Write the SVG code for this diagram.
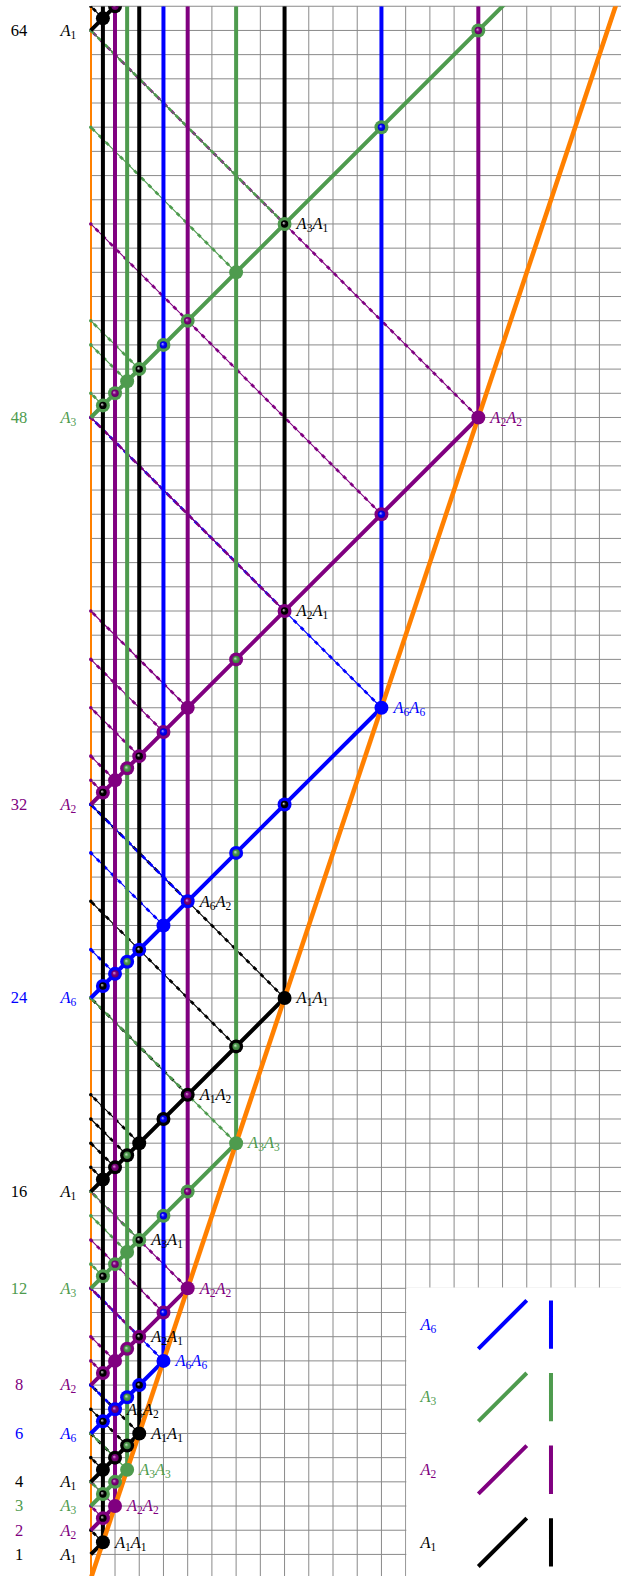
<svg xmlns="http://www.w3.org/2000/svg" width="621" height="1576" viewBox="0 0 621 1576">
<defs>
<style>
.grid{stroke:#8a8a8a;stroke-width:1;fill:none}
.th{stroke-width:4;fill:none}
.or{stroke:#ff8000;stroke-width:4.6;fill:none}
.dl{stroke-width:1.1;fill:none}
.dd{stroke-width:2.7;fill:none;stroke-dasharray:4 6}
.dot{stroke-width:3.6;stroke-linecap:round;fill:none}
.K{stroke:#000}.P{stroke:#800080}.G{stroke:#4e9b4e}.B{stroke:#0000ff}
.t{font-family:"Liberation Serif","Times New Roman",serif;font-size:16.5px}
.i{font-style:italic}
.s{font-size:11.5px}
.cK{fill:#000}.cP{fill:#800080}.cG{fill:#4e9b4e}.cB{fill:#0000ff}
</style>
<radialGradient id="bK" cx="0.5" cy="0.5" r="0.5" fx="0.35" fy="0.35"><stop offset="0" stop-color="#e0e0e0"/><stop offset="0.5" stop-color="#000"/></radialGradient>
<radialGradient id="bP" cx="0.5" cy="0.5" r="0.5" fx="0.35" fy="0.35"><stop offset="0" stop-color="#d9a6d9"/><stop offset="0.5" stop-color="#800080"/><stop offset="1" stop-color="#600060"/></radialGradient>
<radialGradient id="bG" cx="0.5" cy="0.5" r="0.5" fx="0.35" fy="0.35"><stop offset="0" stop-color="#cfe6cf"/><stop offset="0.5" stop-color="#4e9b4e"/><stop offset="1" stop-color="#3c7a3c"/></radialGradient>
<radialGradient id="bB" cx="0.5" cy="0.5" r="0.5" fx="0.35" fy="0.35"><stop offset="0" stop-color="#b3b3ff"/><stop offset="0.5" stop-color="#0000ff"/><stop offset="1" stop-color="#0000c0"/></radialGradient>
<clipPath id="clip"><rect x="88" y="6.25" width="540" height="1572"/></clipPath>
<circle id="oK" r="7" fill="#000"/>
<circle id="oP" r="7" fill="#800080"/>
<circle id="oG" r="7" fill="#4e9b4e"/>
<circle id="oB" r="7" fill="#0000ff"/>
<circle id="iK" r="3.7" fill="url(#bK)"/>
<circle id="iP" r="3.7" fill="url(#bP)"/>
<circle id="iG" r="3.7" fill="url(#bG)"/>
<circle id="iB" r="3.7" fill="url(#bB)"/>
</defs>
<rect width="621" height="1576" fill="#fff"/>
<g id="grid">
<path class="grid" d="M90.8 1554.41H621M90.8 1530.22H621M90.8 1506.03H621M90.8 1481.84H621M90.8 1457.65H621M90.8 1433.46H621M90.8 1409.27H621M90.8 1385.08H621M90.8 1360.89H621M90.8 1336.7H621M90.8 1312.51H621M90.8 1288.32H621M90.8 1264.13H621M90.8 1239.94H621M90.8 1215.75H621M90.8 1191.56H621M90.8 1167.37H621M90.8 1143.18H621M90.8 1118.99H621M90.8 1094.8H621M90.8 1070.61H621M90.8 1046.42H621M90.8 1022.23H621M90.8 998.04H621M90.8 973.85H621M90.8 949.66H621M90.8 925.47H621M90.8 901.28H621M90.8 877.09H621M90.8 852.9H621M90.8 828.71H621M90.8 804.52H621M90.8 780.33H621M90.8 756.14H621M90.8 731.95H621M90.8 707.76H621M90.8 683.57H621M90.8 659.38H621M90.8 635.19H621M90.8 611H621M90.8 586.81H621M90.8 562.62H621M90.8 538.43H621M90.8 514.24H621M90.8 490.05H621M90.8 465.86H621M90.8 441.67H621M90.8 417.48H621M90.8 393.29H621M90.8 369.1H621M90.8 344.91H621M90.8 320.72H621M90.8 296.53H621M90.8 272.34H621M90.8 248.15H621M90.8 223.96H621M90.8 199.77H621M90.8 175.58H621M90.8 151.39H621M90.8 127.2H621M90.8 103.01H621M90.8 78.82H621M90.8 54.63H621M90.8 30.44H621M90.8 6.25H621"/>
<path class="grid" d="M90.8 6.25V1576M115.02 6.25V1576M139.24 6.25V1576M163.46 6.25V1576M187.68 6.25V1576M211.9 6.25V1576M236.12 6.25V1576M260.34 6.25V1576M284.56 6.25V1576M308.78 6.25V1576M333 6.25V1576M357.22 6.25V1576M381.44 6.25V1576M405.66 6.25V1576M429.88 6.25V1576M454.1 6.25V1576M478.32 6.25V1576M502.54 6.25V1576M526.76 6.25V1576M550.98 6.25V1576M575.2 6.25V1576M599.42 6.25V1576"/>
</g>
<g id="legend">
<rect x="406.3" y="1287.5" width="215" height="289" fill="#fff"/>
<text class="t cB" x="420.5" y="1329.91"><tspan class="i">A</tspan><tspan class="s" dy="3">6</tspan></text>
<path class="th B" d="M478.32 1348.8L526.76 1300.42M550.98 1348.8V1300.42"/>
<text class="t cG" x="420.5" y="1402.48"><tspan class="i">A</tspan><tspan class="s" dy="3">3</tspan></text>
<path class="th G" d="M478.32 1421.37L526.76 1372.99M550.98 1421.37V1372.99"/>
<text class="t cP" x="420.5" y="1475.05"><tspan class="i">A</tspan><tspan class="s" dy="3">2</tspan></text>
<path class="th P" d="M478.32 1493.94L526.76 1445.56M550.98 1493.94V1445.56"/>
<text class="t cK" x="420.5" y="1547.62"><tspan class="i">A</tspan><tspan class="s" dy="3">1</tspan></text>
<path class="th K" d="M478.32 1566.51L526.76 1518.13M550.98 1566.51V1518.13"/>
</g>
<g id="axis-labels">
<text class="t cK" x="19" y="1559.71" text-anchor="middle">1</text>
<text class="t cP" x="19" y="1535.52" text-anchor="middle">2</text>
<text class="t cG" x="19" y="1511.33" text-anchor="middle">3</text>
<text class="t cK" x="19" y="1487.14" text-anchor="middle">4</text>
<text class="t cB" x="19" y="1438.76" text-anchor="middle">6</text>
<text class="t cP" x="19" y="1390.38" text-anchor="middle">8</text>
<text class="t cG" x="19" y="1293.62" text-anchor="middle">12</text>
<text class="t cK" x="19" y="1196.86" text-anchor="middle">16</text>
<text class="t cB" x="19" y="1003.34" text-anchor="middle">24</text>
<text class="t cP" x="19" y="809.82" text-anchor="middle">32</text>
<text class="t cG" x="19" y="422.78" text-anchor="middle">48</text>
<text class="t cK" x="19" y="35.74" text-anchor="middle">64</text>
<text class="t cK" x="60.5" y="1559.71"><tspan class="i">A</tspan><tspan class="s" dy="3">1</tspan></text>
<text class="t cP" x="60.5" y="1535.52"><tspan class="i">A</tspan><tspan class="s" dy="3">2</tspan></text>
<text class="t cG" x="60.5" y="1511.33"><tspan class="i">A</tspan><tspan class="s" dy="3">3</tspan></text>
<text class="t cK" x="60.5" y="1487.14"><tspan class="i">A</tspan><tspan class="s" dy="3">1</tspan></text>
<text class="t cB" x="60.5" y="1438.76"><tspan class="i">A</tspan><tspan class="s" dy="3">6</tspan></text>
<text class="t cP" x="60.5" y="1390.38"><tspan class="i">A</tspan><tspan class="s" dy="3">2</tspan></text>
<text class="t cG" x="60.5" y="1293.62"><tspan class="i">A</tspan><tspan class="s" dy="3">3</tspan></text>
<text class="t cK" x="60.5" y="1196.86"><tspan class="i">A</tspan><tspan class="s" dy="3">1</tspan></text>
<text class="t cB" x="60.5" y="1003.34"><tspan class="i">A</tspan><tspan class="s" dy="3">6</tspan></text>
<text class="t cP" x="60.5" y="809.82"><tspan class="i">A</tspan><tspan class="s" dy="3">2</tspan></text>
<text class="t cG" x="60.5" y="422.78"><tspan class="i">A</tspan><tspan class="s" dy="3">3</tspan></text>
<text class="t cK" x="60.5" y="35.74"><tspan class="i">A</tspan><tspan class="s" dy="3">1</tspan></text>
</g>
<g id="connectors" clip-path="url(#clip)">
<line x1="91" y1="6.25" x2="91" y2="1576" stroke="#ff8000" stroke-width="2"/>
<g id="dashed">
<path class="dl K" d="M102.91 1542.32L90.8 1530.22M102.91 1469.75L90.8 1457.65M115.02 1457.65L90.8 1433.46M127.13 1445.56L90.8 1409.27M139.24 1433.46L90.8 1385.08M102.91 1179.47L90.8 1167.37M115.02 1167.37L90.8 1143.18M127.13 1155.28L90.8 1118.99M139.24 1143.18L90.8 1094.8M187.68 1094.8L90.8 998.04M236.12 1046.42L90.8 901.28M284.56 998.04L90.8 804.52M102.91 18.35L90.8 6.25"/>
<path class="dd K" d="M102.91 1542.32L90.8 1530.22M102.91 1469.75L90.8 1457.65M115.02 1457.65L90.8 1433.46M127.13 1445.56L90.8 1409.27M139.24 1433.46L90.8 1385.08M102.91 1179.47L90.8 1167.37M115.02 1167.37L90.8 1143.18M127.13 1155.28L90.8 1118.99M139.24 1143.18L90.8 1094.8M187.68 1094.8L90.8 998.04M236.12 1046.42L90.8 901.28M284.56 998.04L90.8 804.52M102.91 18.35L90.8 6.25"/>
<path class="dot K" d="M90.8 1530.22h0M90.8 1457.65h0M90.8 1433.46h0M90.8 1409.27h0M90.8 1385.08h0M90.8 1167.37h0M90.8 1143.18h0M90.8 1118.99h0M90.8 1094.8h0M90.8 998.04h0M90.8 901.28h0M90.8 804.52h0M90.8 6.25h0"/>
<path class="dl B" d="M115.02 1409.27L90.8 1385.08M163.46 1360.89L90.8 1288.32M115.02 973.85L90.8 949.66M163.46 925.47L90.8 852.9M187.68 901.28L90.8 804.52M381.44 707.76L90.8 417.48"/>
<path class="dd B" d="M115.02 1409.27L90.8 1385.08M163.46 1360.89L90.8 1288.32M115.02 973.85L90.8 949.66M163.46 925.47L90.8 852.9M187.68 901.28L90.8 804.52M381.44 707.76L90.8 417.48"/>
<path class="dot B" d="M90.8 1385.08h0M90.8 1288.32h0M90.8 949.66h0M90.8 852.9h0M90.8 804.52h0M90.8 417.48h0"/>
<path class="dl P" d="M102.91 1518.13L90.8 1506.03M115.02 1506.03L90.8 1481.84M102.91 1372.99L90.8 1360.89M115.02 1360.89L90.8 1336.7M139.24 1336.7L90.8 1288.32M163.46 1312.51L90.8 1239.94M187.68 1288.32L90.8 1191.56M102.91 792.43L90.8 780.33M115.02 780.33L90.8 756.14M139.24 756.14L90.8 707.76M163.46 731.95L90.8 659.38M187.68 707.76L90.8 611M284.56 611L90.8 417.48M381.44 514.24L90.8 223.96M478.32 417.48L90.8 30.44"/>
<path class="dd P" d="M102.91 1518.13L90.8 1506.03M115.02 1506.03L90.8 1481.84M102.91 1372.99L90.8 1360.89M115.02 1360.89L90.8 1336.7M139.24 1336.7L90.8 1288.32M163.46 1312.51L90.8 1239.94M187.68 1288.32L90.8 1191.56M102.91 792.43L90.8 780.33M115.02 780.33L90.8 756.14M139.24 756.14L90.8 707.76M163.46 731.95L90.8 659.38M187.68 707.76L90.8 611M284.56 611L90.8 417.48M381.44 514.24L90.8 223.96M478.32 417.48L90.8 30.44"/>
<path class="dot P" d="M90.8 1506.03h0M90.8 1481.84h0M90.8 1360.89h0M90.8 1336.7h0M90.8 1288.32h0M90.8 1239.94h0M90.8 1191.56h0M90.8 780.33h0M90.8 756.14h0M90.8 707.76h0M90.8 659.38h0M90.8 611h0M90.8 417.48h0M90.8 223.96h0M90.8 30.44h0"/>
<path class="dl G" d="M102.91 1493.94L90.8 1481.84M127.13 1469.75L90.8 1433.46M102.91 1276.23L90.8 1264.13M127.13 1252.04L90.8 1215.75M139.24 1239.94L90.8 1191.56M236.12 1143.18L90.8 998.04M102.91 405.39L90.8 393.29M127.13 381.2L90.8 344.91M139.24 369.1L90.8 320.72M236.12 272.34L90.8 127.2M284.56 223.96L90.8 30.44"/>
<path class="dd G" d="M102.91 1493.94L90.8 1481.84M127.13 1469.75L90.8 1433.46M102.91 1276.23L90.8 1264.13M127.13 1252.04L90.8 1215.75M139.24 1239.94L90.8 1191.56M236.12 1143.18L90.8 998.04M102.91 405.39L90.8 393.29M127.13 381.2L90.8 344.91M139.24 369.1L90.8 320.72M236.12 272.34L90.8 127.2M284.56 223.96L90.8 30.44"/>
<path class="dot G" d="M90.8 1481.84h0M90.8 1433.46h0M90.8 1264.13h0M90.8 1215.75h0M90.8 1191.56h0M90.8 998.04h0M90.8 393.29h0M90.8 344.91h0M90.8 320.72h0M90.8 127.2h0M90.8 30.44h0"/>
</g>
<g id="verticals">
<path class="th K" d="M102.91 1542.32V6.25M139.24 1433.46V6.25M284.56 998.04V6.25"/>
<path class="th P" d="M115.02 1506.03V6.25M187.68 1288.32V6.25M478.32 417.48V6.25"/>
<path class="th G" d="M127.13 1469.75V6.25M236.12 1143.18V6.25"/>
<path class="th B" d="M163.46 1360.89V6.25M381.44 707.76V6.25"/>
</g>
<g id="diagonals">
<path class="th K" d="M90.8 1554.41L102.91 1542.32M90.8 1481.84L139.24 1433.46M90.8 1191.56L284.56 998.04M90.8 30.44L139.24 -17.94"/>
<path class="th P" d="M90.8 1530.22L115.02 1506.03M90.8 1385.08L187.68 1288.32M90.8 804.52L478.32 417.48"/>
<path class="th G" d="M90.8 1506.03L127.13 1469.75M90.8 1288.32L236.12 1143.18M90.8 417.48L526.76 -17.94"/>
<path class="th B" d="M90.8 1433.46L163.46 1360.89M90.8 998.04L381.44 707.76"/>
</g>
<path id="orange" class="or" d="M90.8 1578.6L623.64 -17.94"/>
</g>
<g id="point-labels">
<text class="t cK" x="114.91" y="1547.62"><tspan class="i">A</tspan><tspan class="s" dy="3">1</tspan><tspan class="i" dy="-3">A</tspan><tspan class="s" dy="3">1</tspan></text>
<text class="t cP" x="127.02" y="1511.33"><tspan class="i">A</tspan><tspan class="s" dy="3">2</tspan><tspan class="i" dy="-3">A</tspan><tspan class="s" dy="3">2</tspan></text>
<text class="t cG" x="139.13" y="1475.05"><tspan class="i">A</tspan><tspan class="s" dy="3">3</tspan><tspan class="i" dy="-3">A</tspan><tspan class="s" dy="3">3</tspan></text>
<text class="t cK" x="151.24" y="1438.76"><tspan class="i">A</tspan><tspan class="s" dy="3">1</tspan><tspan class="i" dy="-3">A</tspan><tspan class="s" dy="3">1</tspan></text>
<text class="t cK" x="127.02" y="1414.57"><tspan class="i">A</tspan><tspan class="s" dy="3">6</tspan><tspan class="i" dy="-3">A</tspan><tspan class="s" dy="3">2</tspan></text>
<text class="t cB" x="175.46" y="1366.19"><tspan class="i">A</tspan><tspan class="s" dy="3">6</tspan><tspan class="i" dy="-3">A</tspan><tspan class="s" dy="3">6</tspan></text>
<text class="t cK" x="151.24" y="1342"><tspan class="i">A</tspan><tspan class="s" dy="3">2</tspan><tspan class="i" dy="-3">A</tspan><tspan class="s" dy="3">1</tspan></text>
<text class="t cP" x="199.68" y="1293.62"><tspan class="i">A</tspan><tspan class="s" dy="3">2</tspan><tspan class="i" dy="-3">A</tspan><tspan class="s" dy="3">2</tspan></text>
<text class="t cK" x="151.24" y="1245.24"><tspan class="i">A</tspan><tspan class="s" dy="3">3</tspan><tspan class="i" dy="-3">A</tspan><tspan class="s" dy="3">1</tspan></text>
<text class="t cG" x="248.12" y="1148.48"><tspan class="i">A</tspan><tspan class="s" dy="3">3</tspan><tspan class="i" dy="-3">A</tspan><tspan class="s" dy="3">3</tspan></text>
<text class="t cK" x="199.68" y="1100.1"><tspan class="i">A</tspan><tspan class="s" dy="3">1</tspan><tspan class="i" dy="-3">A</tspan><tspan class="s" dy="3">2</tspan></text>
<text class="t cK" x="296.56" y="1003.34"><tspan class="i">A</tspan><tspan class="s" dy="3">1</tspan><tspan class="i" dy="-3">A</tspan><tspan class="s" dy="3">1</tspan></text>
<text class="t cK" x="199.68" y="906.58"><tspan class="i">A</tspan><tspan class="s" dy="3">6</tspan><tspan class="i" dy="-3">A</tspan><tspan class="s" dy="3">2</tspan></text>
<text class="t cB" x="393.44" y="713.06"><tspan class="i">A</tspan><tspan class="s" dy="3">6</tspan><tspan class="i" dy="-3">A</tspan><tspan class="s" dy="3">6</tspan></text>
<text class="t cK" x="296.56" y="616.3"><tspan class="i">A</tspan><tspan class="s" dy="3">2</tspan><tspan class="i" dy="-3">A</tspan><tspan class="s" dy="3">1</tspan></text>
<text class="t cP" x="490.32" y="422.78"><tspan class="i">A</tspan><tspan class="s" dy="3">2</tspan><tspan class="i" dy="-3">A</tspan><tspan class="s" dy="3">2</tspan></text>
<text class="t cK" x="296.56" y="229.26"><tspan class="i">A</tspan><tspan class="s" dy="3">3</tspan><tspan class="i" dy="-3">A</tspan><tspan class="s" dy="3">1</tspan></text>
</g>
<g id="nodes">
<g id="d1"><use href="#oK" x="102.91" y="1542.32"/></g>
<g id="d2"><use href="#oP" x="102.91" y="1518.13"/><use href="#iK" x="102.91" y="1518.13"/><use href="#oP" x="115.02" y="1506.03"/></g>
<g id="d3"><use href="#oG" x="102.91" y="1493.94"/><use href="#iK" x="102.91" y="1493.94"/><use href="#oG" x="115.02" y="1481.84"/><use href="#iP" x="115.02" y="1481.84"/><use href="#oG" x="127.13" y="1469.75"/></g>
<g id="d4"><use href="#oK" x="102.91" y="1469.75"/><use href="#oK" x="115.02" y="1457.65"/><use href="#iP" x="115.02" y="1457.65"/><use href="#oK" x="127.13" y="1445.56"/><use href="#iG" x="127.13" y="1445.56"/><use href="#oK" x="139.24" y="1433.46"/></g>
<g id="d6"><use href="#oB" x="102.91" y="1421.37"/><use href="#iK" x="102.91" y="1421.37"/><use href="#oB" x="115.02" y="1409.27"/><use href="#iP" x="115.02" y="1409.27"/><use href="#oB" x="127.13" y="1397.18"/><use href="#iG" x="127.13" y="1397.18"/><use href="#oB" x="139.24" y="1385.08"/><use href="#iK" x="139.24" y="1385.08"/><use href="#oB" x="163.46" y="1360.89"/></g>
<g id="d8"><use href="#oP" x="102.91" y="1372.99"/><use href="#iK" x="102.91" y="1372.99"/><use href="#oP" x="115.02" y="1360.89"/><use href="#oP" x="127.13" y="1348.8"/><use href="#iG" x="127.13" y="1348.8"/><use href="#oP" x="139.24" y="1336.7"/><use href="#iK" x="139.24" y="1336.7"/><use href="#oP" x="163.46" y="1312.51"/><use href="#iB" x="163.46" y="1312.51"/><use href="#oP" x="187.68" y="1288.32"/></g>
<g id="d12"><use href="#oG" x="102.91" y="1276.23"/><use href="#iK" x="102.91" y="1276.23"/><use href="#oG" x="115.02" y="1264.13"/><use href="#iP" x="115.02" y="1264.13"/><use href="#oG" x="127.13" y="1252.04"/><use href="#oG" x="139.24" y="1239.94"/><use href="#iK" x="139.24" y="1239.94"/><use href="#oG" x="163.46" y="1215.75"/><use href="#iB" x="163.46" y="1215.75"/><use href="#oG" x="187.68" y="1191.56"/><use href="#iP" x="187.68" y="1191.56"/><use href="#oG" x="236.12" y="1143.18"/></g>
<g id="d16"><use href="#oK" x="102.91" y="1179.47"/><use href="#oK" x="115.02" y="1167.37"/><use href="#iP" x="115.02" y="1167.37"/><use href="#oK" x="127.13" y="1155.28"/><use href="#iG" x="127.13" y="1155.28"/><use href="#oK" x="139.24" y="1143.18"/><use href="#oK" x="163.46" y="1118.99"/><use href="#iB" x="163.46" y="1118.99"/><use href="#oK" x="187.68" y="1094.8"/><use href="#iP" x="187.68" y="1094.8"/><use href="#oK" x="236.12" y="1046.42"/><use href="#iG" x="236.12" y="1046.42"/><use href="#oK" x="284.56" y="998.04"/></g>
<g id="d24"><use href="#oB" x="102.91" y="985.95"/><use href="#iK" x="102.91" y="985.95"/><use href="#oB" x="115.02" y="973.85"/><use href="#iP" x="115.02" y="973.85"/><use href="#oB" x="127.13" y="961.76"/><use href="#iG" x="127.13" y="961.76"/><use href="#oB" x="139.24" y="949.66"/><use href="#iK" x="139.24" y="949.66"/><use href="#oB" x="163.46" y="925.47"/><use href="#oB" x="187.68" y="901.28"/><use href="#iP" x="187.68" y="901.28"/><use href="#oB" x="236.12" y="852.9"/><use href="#iG" x="236.12" y="852.9"/><use href="#oB" x="284.56" y="804.52"/><use href="#iK" x="284.56" y="804.52"/><use href="#oB" x="381.44" y="707.76"/></g>
<g id="d32"><use href="#oP" x="102.91" y="792.43"/><use href="#iK" x="102.91" y="792.43"/><use href="#oP" x="115.02" y="780.33"/><use href="#oP" x="127.13" y="768.24"/><use href="#iG" x="127.13" y="768.24"/><use href="#oP" x="139.24" y="756.14"/><use href="#iK" x="139.24" y="756.14"/><use href="#oP" x="163.46" y="731.95"/><use href="#iB" x="163.46" y="731.95"/><use href="#oP" x="187.68" y="707.76"/><use href="#oP" x="236.12" y="659.38"/><use href="#iG" x="236.12" y="659.38"/><use href="#oP" x="284.56" y="611"/><use href="#iK" x="284.56" y="611"/><use href="#oP" x="381.44" y="514.24"/><use href="#iB" x="381.44" y="514.24"/><use href="#oP" x="478.32" y="417.48"/></g>
<g id="d48"><use href="#oG" x="102.91" y="405.39"/><use href="#iK" x="102.91" y="405.39"/><use href="#oG" x="115.02" y="393.29"/><use href="#iP" x="115.02" y="393.29"/><use href="#oG" x="127.13" y="381.2"/><use href="#oG" x="139.24" y="369.1"/><use href="#iK" x="139.24" y="369.1"/><use href="#oG" x="163.46" y="344.91"/><use href="#iB" x="163.46" y="344.91"/><use href="#oG" x="187.68" y="320.72"/><use href="#iP" x="187.68" y="320.72"/><use href="#oG" x="236.12" y="272.34"/><use href="#oG" x="284.56" y="223.96"/><use href="#iK" x="284.56" y="223.96"/><use href="#oG" x="381.44" y="127.2"/><use href="#iB" x="381.44" y="127.2"/><use href="#oG" x="478.32" y="30.44"/><use href="#iP" x="478.32" y="30.44"/></g>
<g id="d64" clip-path="url(#clip)"><use href="#oK" x="102.91" y="18.35"/><use href="#oK" x="115.02" y="6.25"/><use href="#iP" x="115.02" y="6.25"/></g>
</g>
</svg>
